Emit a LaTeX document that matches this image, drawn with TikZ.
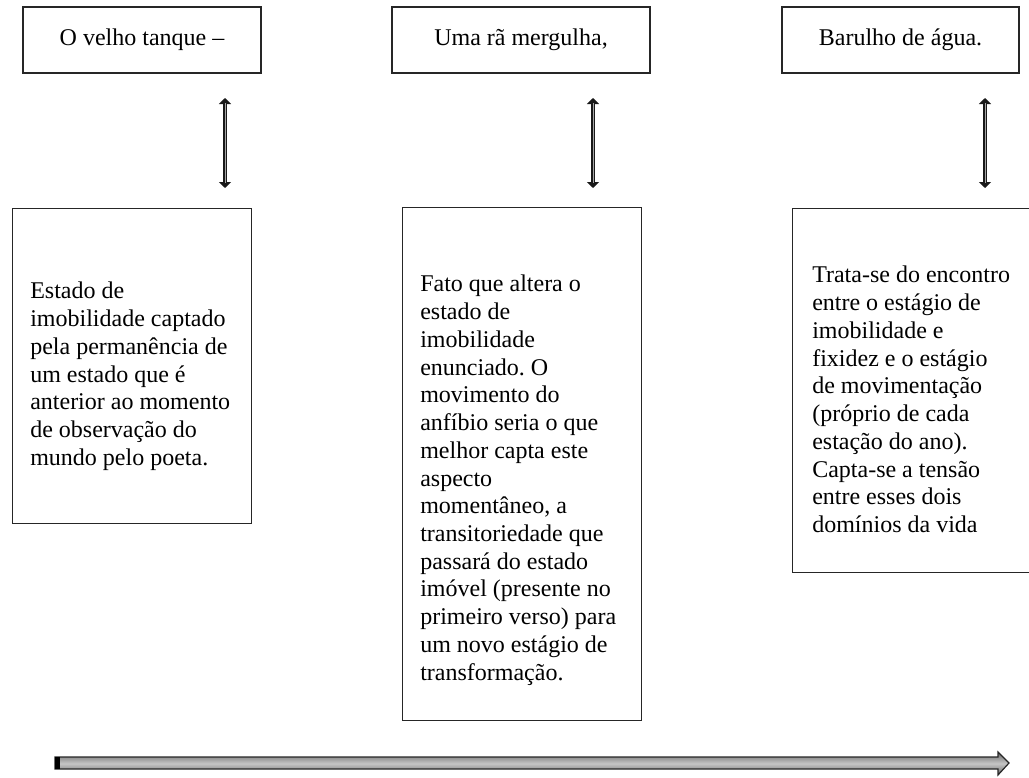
\documentclass[tikz,border=0pt]{standalone}
\usepackage{fontspec}
\setmainfont{Liberation Serif}
\usetikzlibrary{arrows.meta,positioning}
\frenchspacing

\begin{document}
\begin{tikzpicture}[
  x=0.75pt,y=-0.75pt,
  verso/.style={draw=black!85,line width=1.1pt,minimum height=49.5pt,inner sep=0pt,
    font=\fontsize{18}{20.8}\selectfont},
  caixa/.style={draw=black!85,line width=1.1pt,anchor=north west,inner sep=0pt},
  texto/.style={anchor=north west,inner sep=0pt,align=left,
    font=\fontsize{18}{20.8}\selectfont},
  seta/.style={line width=3.6pt,draw=black!90,
    {Triangle[width=9pt,length=4.5pt]}-{Triangle[width=9pt,length=4.5pt]},
    postaction={draw=gray!70,line width=0.7pt,-,shorten >=4pt,shorten <=4pt}}
]
  \useasboundingbox (0,0) rectangle (1029,778);

  % versos
  \node[verso,minimum width=178.5pt] (v1) at (142,40) {O velho tanque --};
  \node[verso,minimum width=193.5pt] (v2) at (521,40) {Uma rã mergulha,};
  \node[verso,minimum width=178pt] (v3) at (900.5,40) {Barulho de água.};

  % setas duplas
  \coordinate (s1) at (225,98);  \coordinate (e1) at (225,188);
  \coordinate (s2) at (593,98);  \coordinate (e2) at (593,188);
  \coordinate (s3) at (985,98);  \coordinate (e3) at (985,188);
  \draw[seta] (s1) -- (e1);
  \draw[seta] (s2) -- (e2);
  \draw[seta] (s3) -- (e3);

  % comentarios
  \node[caixa,minimum width=179.25pt,minimum height=236.25pt] (cA) at (12,208) {};
  \node[caixa,minimum width=179.25pt,minimum height=384.75pt] (cB) at (402,207) {};
  \node[caixa,minimum width=186pt,minimum height=273pt] (cC) at (792,208) {};

  \node[texto] (tA) at ([xshift=13.5pt,yshift=-55.5pt]cA.north west)
    {Estado de\\imobilidade captado\\pela permanência de\\um estado que é\\
     anterior ao momento\\de observação do\\mundo pelo poeta.};
  \node[texto] (tB) at ([xshift=13.5pt,yshift=-51pt]cB.north west)
    {Fato que altera o\\estado de\\imobilidade\\enunciado. O\\movimento do\\
     anfíbio seria o que\\melhor capta este\\aspecto\\momentâneo, a\\
     transitoriedade que\\passará do estado\\imóvel (presente no\\
     primeiro verso) para\\um novo estágio de\\transformação.};
  \node[texto] (tC) at ([xshift=15pt,yshift=-43.5pt]cC.north west)
    {Trata-se do encontro\\entre o estágio de\\imobilidade e\\fixidez e o estágio\\
     de movimentação\\(próprio de cada\\estação do ano).\\Capta-se a tensão\\
     entre esses dois\\domínios da vida};

  % linha do tempo
  \coordinate (l0) at (55,763);
  \coordinate (l1) at (1009,763);
  \shadedraw[top color=black!60,bottom color=black!60,middle color=gray!45,
    draw=black!85,line width=0.9pt]
    (55,757) -- (998,757) -- (998,752) -- (l1) -- (998,775) -- (998,769)
    -- (55,769) -- cycle;
  \fill[black] (55,757) rectangle (60,769);
\end{tikzpicture}
\end{document}
